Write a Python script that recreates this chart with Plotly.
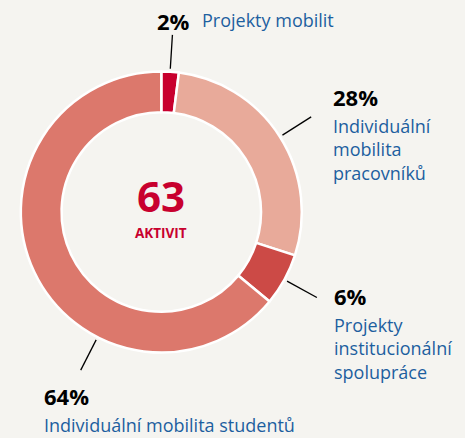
import math
import plotly.graph_objects as go

# ---- data ----
categories = ["Projekty mobilit", "Individuální mobilita pracovníků",
              "Projekty institucionální spolupráce", "Individuální mobilita studentů"]
label_text = ["Projekty mobilit", "Individuální<br>mobilita<br>pracovníků",
              "Projekty<br>institucionální<br>spolupráce", "Individuální mobilita studentů"]
values = [2, 28, 6, 64]
total_activities = 63
center_label = "AKTIVIT"

# ---- style ----
W, H = 465, 438
BG = "#f5f4f0"
colors = ["#c8002e", "#e8aa9a", "#cc4a46", "#dc786c"]
BLUE = "#1d5f9f"
CRIMSON = "#c8002e"
FONT = "Open Sans"

cx, cy, R = 161.3, 212.0, 140.5   # pixel centre and radius of the donut
hole = 0.71

# leader-line angle (deg clockwise from top); None = slice midpoint
leader_override = [None, None, None, 207]
# label block top-left (pixels); percentage sits directly above (or inline for first)
lab_pos = [(201, 7), (332, 113), (333, 312), (43, 412)]
pct_inline_x = 156

fig = go.Figure(go.Pie(
    labels=categories, values=values, sort=False, direction="clockwise",
    rotation=0, hole=hole, textinfo="none", hoverinfo="label+percent",
    marker=dict(colors=colors, line=dict(color="white", width=2.5)),
    domain=dict(x=[(cx - R) / W, (cx + R) / W],
                y=[1 - (cy + R) / H, 1 - (cy - R) / H]),
    showlegend=False,
))

def px2paper(x, y):
    return x / W, 1 - y / H

annotations = []
shapes = []
tot = sum(values)
cum = 0
for i, v in enumerate(values):
    mid = (cum + v / 2) / tot * 360
    cum += v
    ang = leader_override[i] if leader_override[i] is not None else mid
    a = math.radians(ang)
    r1, r2 = R + 3, R + 37
    x0, y0 = px2paper(cx + r1 * math.sin(a), cy - r1 * math.cos(a))
    x1, y1 = px2paper(cx + r2 * math.sin(a), cy - r2 * math.cos(a))
    shapes.append(dict(type="line", xref="paper", yref="paper",
                       x0=x0, y0=y0, x1=x1, y1=y1,
                       line=dict(color="black", width=1.3)))
    lxp, lyp = lab_pos[i]
    lx, ly = px2paper(lxp, lyp)
    annotations.append(dict(text=label_text[i], x=lx, y=ly, xref="paper", yref="paper",
                            xanchor="left", yanchor="top", showarrow=False, align="left",
                            borderpad=0,
                            font=dict(family=FONT, size=18, color=BLUE)))
    if i == 0:
        px, py = px2paper(pct_inline_x, lyp - 2)
        anchor = "top"
    else:
        px, py = px2paper(lxp, lyp)
        anchor = "bottom"
    annotations.append(dict(text=f"<b>{v}%</b>", x=px, y=py, xref="paper", yref="paper",
                            xanchor="left", yanchor=anchor, showarrow=False, borderpad=0,
                            font=dict(family=FONT, size=22, color="black")))

# centre text
annotations.append(dict(text=f"<b>{total_activities}</b>", x=cx / W, y=1 - 195 / H,
                        xref="paper", yref="paper", xanchor="center", yanchor="middle",
                        showarrow=False, font=dict(family=FONT, size=42, color=CRIMSON)))
annotations.append(dict(text=f"<b>{center_label}</b>", x=cx / W, y=1 - 233 / H,
                        xref="paper", yref="paper", xanchor="center", yanchor="middle",
                        showarrow=False, font=dict(family=FONT, size=13.5, color=CRIMSON)))

fig.update_layout(width=W, height=H, margin=dict(l=0, r=0, t=0, b=0),
                  paper_bgcolor=BG, plot_bgcolor=BG,
                  annotations=annotations, shapes=shapes)
fig.write_html("out.html", config={"displayModeBar": False},
               post_script="document.body.style.margin='0';"
                           "document.body.style.background='" + BG + "';")
